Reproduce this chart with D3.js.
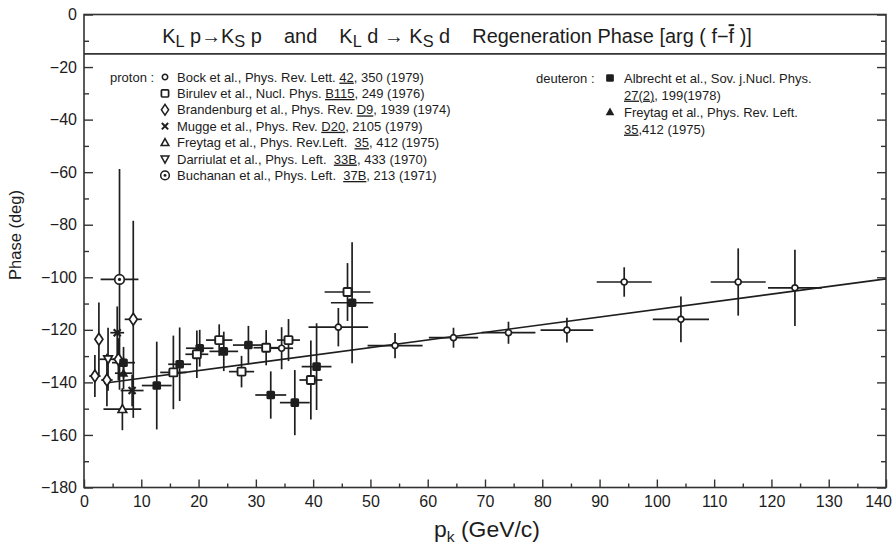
<!DOCTYPE html>
<html><head><meta charset="utf-8">
<script src="https://cdn.jsdelivr.net/npm/d3@7"></script>
<style>
body{margin:0;background:#fff}
text{font-family:"Liberation Sans",Arial,Helvetica,sans-serif;fill:#1c1c1c;white-space:pre}
</style>
</head><body>
<svg id="c" width="893" height="550"></svg>
<script>
// ---------- data ----------
const xTickValues = [0,10,20,30,40,50,60,70,80,90,100,110,120,130,140];
const yTickValues = [0,-20,-40,-60,-80,-100,-120,-140,-160,-180];
const yTickLabels = ["0","−20","−40","−60","−80","−100","−120","−140","−160","−180"];

// proton data: p (GeV/c), phase (deg), half error in p, half error in phase
const bock = [
  {p:34.5,v:-127,dp:2,dv:8},{p:44.4,v:-119,dp:5.2,dv:7.3},
  {p:54.3,v:-126,dp:4.8,dv:4.8},{p:64.5,v:-123,dp:4.3,dv:3.8},
  {p:74.1,v:-121.1,dp:4.7,dv:4.2},{p:84.3,v:-120.1,dp:4.6,dv:4.7},
  {p:94.3,v:-101.8,dp:4.8,dv:5.6},{p:104.2,v:-116,dp:4.9,dv:8.7},
  {p:114.2,v:-101.8,dp:4.8,dv:12.8},{p:124.1,v:-104,dp:4.7,dv:14.5}
];
const birulev = [
  {p:15.6,v:-136.2,dp:2.3,dv:14},{p:19.7,v:-129.3,dp:2,dv:9},
  {p:23.6,v:-123.9,dp:2.3,dv:6},{p:27.5,v:-135.9,dp:2.2,dv:6},
  {p:31.8,v:-126.8,dp:2.2,dv:6.7},{p:35.7,v:-123.9,dp:2,dv:8},
  {p:39.6,v:-139.1,dp:2,dv:15},{p:46,v:-105.6,dp:4,dv:11}
];
const brandenburg = [
  {p:1.9,v:-137.6,dp:1,dv:8},{p:2.6,v:-123.6,dp:0.5,dv:14},
  {p:4.0,v:-139.1,dp:1,dv:10},{p:6.0,v:-131.2,dp:1,dv:8},
  {p:8.6,v:-116,dp:1.5,dv:37.5}
];
const mugge = [{p:5.8,v:-121.1,dp:1.2,dv:10},{p:8.4,v:-143.1,dp:2,dv:6}];
const freytagP = [{p:6.7,v:-150.2,dp:3.3,dv:8}];
const darriulat = [{p:4.2,v:-131.2,dp:1.5,dv:12}];
const buchanan = [{p:6.2,v:-100.8,dp:3.3,dv:42}];
// deuteron data
const albrecht = [
  {p:6.9,v:-132.5,dp:2,dv:6},{p:12.7,v:-141.2,dp:2.6,dv:16.7},
  {p:16.7,v:-133.1,dp:2,dv:14},{p:20.2,v:-127,dp:2.4,dv:7},
  {p:24.4,v:-128.2,dp:2.5,dv:7.5},{p:28.7,v:-125.8,dp:2.7,dv:7.3},
  {p:32.6,v:-144.8,dp:2.7,dv:9},{p:36.8,v:-147.7,dp:2.6,dv:12.4},
  {p:40.6,v:-134,dp:2.6,dv:16.5},{p:46.8,v:-109.7,dp:3.7,dv:23}
];
const freytagD = [{p:6.9,v:-136.5,dp:1.5,dv:6}];
// fitted line
const fitLine = [{p:3.5,v:-140.3},{p:140,v:-100.6}];

const protonLegend = [
  {sym:"circle", parts:[["Bock et al., Phys. Rev. Lett. ",0],["42",1],[", 350 (1979)",0]]},
  {sym:"square", parts:[["Birulev et al., Nucl. Phys. ",0],["B115",1],[", 249 (1976)",0]]},
  {sym:"diamond", parts:[["Brandenburg et al., Phys. Rev. ",0],["D9",1],[", 1939 (1974)",0]]},
  {sym:"cross", parts:[["Mugge et al., Phys. Rev. ",0],["D20",1],[", 2105 (1979)",0]]},
  {sym:"tri", parts:[["Freytag et al., Phys. Rev.Left.  ",0],["35",1],[", 412 (1975)",0]]},
  {sym:"dtri", parts:[["Darriulat et al., Phys. Left.  ",0],["33B",1],[", 433 (1970)",0]]},
  {sym:"dotcircle", parts:[["Buchanan et al., Phys. Left.  ",0],["37B",1],[", 213 (1971)",0]]}
];
const deuteronLegend = [
  {sym:"fsquare", parts:[["Albrecht et al., Sov. j.Nucl. Phys.",0]]},
  {sym:null, parts:[["27(2)",1],[", 199(1978)",0]]},
  {sym:"ftri", parts:[["Freytag et al., Phys. Rev. Left.",0]]},
  {sym:null, parts:[["35",1],[",412 (1975)",0]]}
];

const series = [
  {data:buchanan, sym:"dotcircle"},
  {data:brandenburg, sym:"diamond"},
  {data:darriulat, sym:"dtri"},
  {data:mugge, sym:"cross"},
  {data:freytagP, sym:"tri"},
  {data:albrecht, sym:"fsquare"},
  {data:freytagD, sym:"ftri"},
  {data:birulev, sym:"square"},
  {data:bock, sym:"circle"}
];

// ---------- drawing ----------
const svg = d3.select("#c");
const ink = "#1e1e1e";
const x = d3.scaleLinear().domain([0,140]).range([84,886]);
const y = d3.scaleLinear().domain([-180,0]).range([487.5,14.5]);

function drawSym(g, type, cx, cy, k){
  k = k||1;
  const s = g.append("g").attr("transform",`translate(${cx},${cy}) scale(${k})`);
  const sw = 1.7;
  switch(type){
    case "circle": s.append("circle").attr("r",3).attr("fill","#fff").attr("stroke",ink).attr("stroke-width",sw); break;
    case "square": s.append("rect").attr("x",-4).attr("y",-4).attr("width",8).attr("height",8).attr("rx",1).attr("fill","#fff").attr("stroke",ink).attr("stroke-width",1.9); break;
    case "diamond": s.append("path").attr("d","M0,-6L4,0L0,6L-4,0Z").attr("fill","#fff").attr("stroke",ink).attr("stroke-width",sw); break;
    case "cross": s.append("path").attr("d","M-3.5,-3.5L3.5,3.5M-3.5,3.5L3.5,-3.5").attr("stroke",ink).attr("stroke-width",2.2); break;
    case "tri": s.append("path").attr("d","M0,-4.5L4.3,3.3L-4.3,3.3Z").attr("fill","#fff").attr("stroke",ink).attr("stroke-width",sw); break;
    case "dtri": s.append("path").attr("d","M0,4.5L4.3,-3.3L-4.3,-3.3Z").attr("fill","#fff").attr("stroke",ink).attr("stroke-width",sw); break;
    case "dotcircle":
      s.append("circle").attr("r",4.8).attr("fill","#fff").attr("stroke",ink).attr("stroke-width",sw);
      s.append("circle").attr("r",1.6).attr("fill",ink); break;
    case "fsquare": s.append("rect").attr("x",-4.3).attr("y",-4.3).attr("width",8.6).attr("height",8.6).attr("rx",1.5).attr("fill",ink); break;
    case "ftri": s.append("path").attr("d","M0,-5L4.8,3.6L-4.8,3.6Z").attr("fill",ink); break;
  }
}

// frame
svg.append("rect").attr("x",x(0)).attr("y",y(0)).attr("width",x(140)-x(0)).attr("height",y(-180)-y(0))
  .attr("fill","none").attr("stroke","#333").attr("stroke-width",1.6);
svg.append("line").attr("x1",x(0)).attr("x2",x(140)).attr("y1",y(-15)).attr("y2",y(-15))
  .attr("stroke","#333").attr("stroke-width",1.6);

// axes
const minorY = d3.range(-170,0,20);
const minorX = d3.range(5,140,10);
function styleAxis(g){ g.select(".domain").remove(); g.selectAll("line").attr("stroke","#333").attr("stroke-width",1.4);
  g.selectAll("text").attr("font-size",16).attr("fill","#1c1c1c").attr("font-family",'"Liberation Sans",Arial,sans-serif'); }
svg.append("g").attr("transform",`translate(${x(0)},0)`)
  .call(d3.axisLeft(y).tickValues(yTickValues).tickSize(-9).tickPadding(7).tickFormat((d,i)=>yTickLabels[i])).call(styleAxis);
svg.append("g").attr("transform",`translate(${x(0)},0)`)
  .call(d3.axisLeft(y).tickValues(minorY).tickSize(-5).tickFormat("")).call(styleAxis);
svg.append("g").attr("transform",`translate(${x(140)},0)`)
  .call(d3.axisRight(y).tickValues(yTickValues).tickSize(-9).tickFormat("")).call(styleAxis);
svg.append("g").attr("transform",`translate(${x(140)},0)`)
  .call(d3.axisRight(y).tickValues(minorY).tickSize(-5).tickFormat("")).call(styleAxis);
const xAx = svg.append("g").attr("transform",`translate(0,${y(-180)})`)
  .call(d3.axisBottom(x).tickValues(xTickValues).tickSize(-8).tickPadding(8)).call(styleAxis);
xAx.selectAll(".tick text").filter(d=>d===140).attr("dx",-8);
svg.append("g").attr("transform",`translate(0,${y(-180)})`)
  .call(d3.axisBottom(x).tickValues(minorX).tickSize(-4).tickFormat("")).call(styleAxis);

// axis titles
svg.append("text").attr("transform",`translate(21,235) rotate(-90)`).attr("text-anchor","middle")
  .attr("font-size",16.5).text("Phase (deg)");
const xl = svg.append("text").attr("x",487).attr("y",537).attr("text-anchor","middle").attr("font-size",22);
xl.append("tspan").text("p");
xl.append("tspan").attr("font-size",15).attr("dy",5).text("k");
xl.append("tspan").attr("dy",-5).text(" (GeV/c)");
function fitWidth(t, target, cx){
  const w = t.node().getBBox().width;
  const k = target / w;
  t.attr("transform",`translate(${cx},0) scale(${k},1) translate(${-cx},0)`);
}
fitWidth(xl, 106, 487);

// title
const tt = svg.append("text").attr("x",457).attr("y",43).attr("text-anchor","middle").attr("font-size",19.5)
  .attr("font-family",'"Liberation Sans Narrow","Arial Narrow","Liberation Sans",sans-serif');
const sub = (t)=>{ tt.append("tspan").attr("dy",4).attr("font-size",16).text(t); };
const nor = (t,dy)=>{ tt.append("tspan").attr("dy",dy||0).text(t); };
nor("K"); sub("L"); nor(" p",-4); tt.append("tspan").attr("font-weight","bold").text("→"); nor("K"); sub("S"); nor(" p    and    K",-4);
sub("L"); nor(" d ",-4); tt.append("tspan").attr("font-weight","bold").text("→"); nor(" K"); sub("S"); nor(" d    Regeneration Phase [arg ( f−",-4);
tt.append("tspan").attr("text-decoration","overline").text("f");
nor(" )]");
fitWidth(tt, 590, 457);

// error bars
const eb = svg.append("g").attr("stroke",ink).attr("stroke-width",1.7);
series.forEach(s=>{
  eb.selectAll(null).data(s.data).join("line")
    .attr("x1",d=>x(d.p-d.dp)).attr("x2",d=>x(d.p+d.dp)).attr("y1",d=>y(d.v)).attr("y2",d=>y(d.v));
  eb.selectAll(null).data(s.data).join("line")
    .attr("x1",d=>x(d.p)).attr("x2",d=>x(d.p)).attr("y1",d=>y(d.v-d.dv)).attr("y2",d=>y(Math.min(0,d.v+d.dv)));
});

// fit line
svg.append("path").datum(fitLine).attr("fill","none").attr("stroke",ink).attr("stroke-width",1.6)
  .attr("d",d3.line().x(d=>x(d.p)).y(d=>y(d.v)));

// symbols
const sg = svg.append("g");
series.forEach(s=>{ s.data.forEach(d=>drawSym(sg, s.sym, x(d.p), y(d.v), 1)); });

// legends
function legend(items, label, lx, sx, tx, y0, dy){
  const g = svg.append("g");
  g.append("text").attr("x",lx).attr("y",y0+4.6).attr("font-size",13).text(label);
  items.forEach((it,i)=>{
    const yy = y0 + i*dy;
    if(it.sym) drawSym(g, it.sym, sx, yy, 0.9);
    const t = g.append("text").attr("x",tx).attr("y",yy+4.6).attr("font-size",13);
    it.parts.forEach(p=>{ const ts=t.append("tspan").text(p[0]); if(p[1]) ts.attr("text-decoration","underline"); });
  });
}
legend(protonLegend, "proton :", 110, 165, 177, 77, 16.4);
legend(deuteronLegend, "deuteron :", 536, 610, 624, 78, 17);
</script>
</body></html>
